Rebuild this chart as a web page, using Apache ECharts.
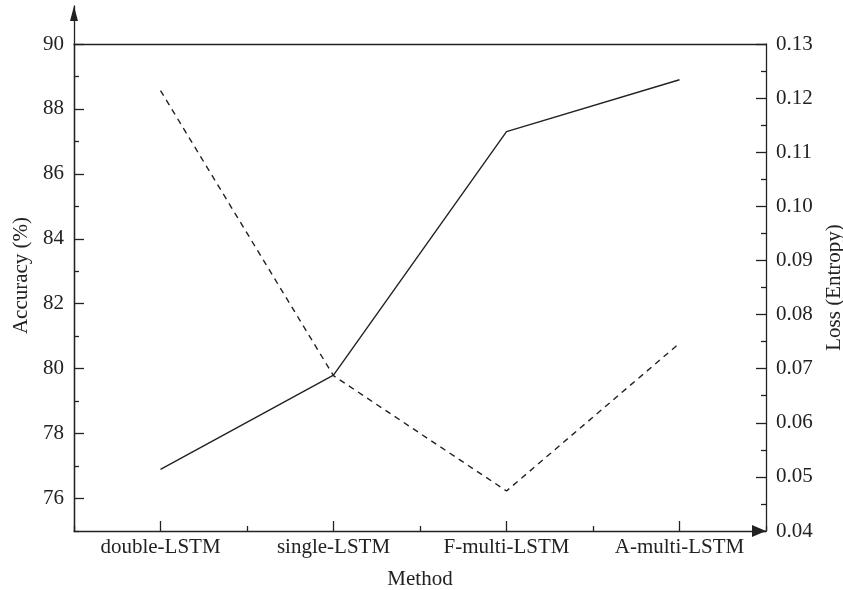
<!DOCTYPE html>
<html>
<head>
<meta charset="utf-8">
<script src="https://cdn.jsdelivr.net/npm/echarts@6/dist/echarts.min.js"></script>
<style>
  html, body { margin: 0; padding: 0; background: #fff; }
  #box01 { width: 843px; height: 590px; }
</style>
</head>
<body>
<div id="box01"></div>
<script>
// 数据
var methods = ['double-LSTM', 'single-LSTM', 'F-multi-LSTM', 'A-multi-LSTM'];
var accuracy = [76.9, 79.8, 87.3, 88.9];
var loss = [0.1214, 0.0687, 0.0474, 0.0747];

// 刻度
var accTicks = [76, 78, 80, 82, 84, 86, 88, 90];
var accMinorTicks = [75, 77, 79, 81, 83, 85, 87, 89];
var lossTicks = [0.04, 0.05, 0.06, 0.07, 0.08, 0.09, 0.10, 0.11, 0.12, 0.13];
var lossMinorTicks = [0.045, 0.055, 0.065, 0.075, 0.085, 0.095, 0.105, 0.115, 0.125];

var ink = '#222';
var font = 'Liberation Serif';
var fs = 21;
var lineStyle = { color: ink, width: 1.3 };

var myChart = echarts.init(document.getElementById('box01'));

var option = {
    backgroundColor: '#fff',
    animation: false,
    textStyle: { fontFamily: font, color: ink },
    grid: [
        { left: 74, right: 77, top: 44, bottom: 59, outerBoundsMode: 'none', containLabel: false },
        { left: 74, right: 77, top: 6, bottom: 59, outerBoundsMode: 'none', containLabel: false }
    ],
    xAxis: [
        {
            type : 'category',
            data : methods,
            boundaryGap: true,
            name: 'Method',
            nameLocation: 'middle',
            nameGap: 38,
            nameTextStyle: { fontFamily: font, fontSize: fs, color: ink },
            axisLine: { show: true, lineStyle: lineStyle, symbol: ['none', 'triangle'], symbolSize: [12, 14], symbolOffset: [0, -7] },
            axisTick: { show: true, inside: true, length: 10, alignWithLabel: true, lineStyle: lineStyle },
            axisLabel: { fontFamily: font, fontSize: fs, color: ink, margin: 6 },
            splitLine: { show: false }
        },
        {
            type : 'category',
            data : methods,
            boundaryGap: true,
            position: 'bottom',
            axisLine: { show: false },
            axisTick: { show: true, inside: true, length: 5, lineStyle: lineStyle },
            axisLabel: { show: false },
            splitLine: { show: false }
        },
        {
            type : 'category',
            data : methods,
            position: 'top',
            axisLine: { show: true, lineStyle: lineStyle },
            axisTick: { show: false },
            axisLabel: { show: false },
            splitLine: { show: false }
        },
        {
            type: 'value',
            gridIndex: 1,
            show: false
        }
    ],
    yAxis: [
        {
            type : 'value',
            min: 75,
            max: 90,
            position: 'left',
            name: 'Accuracy (%)',
            nameLocation: 'middle',
            nameGap: 40,
            nameTextStyle: { fontFamily: font, fontSize: fs, color: ink, padding: [0, 0, 0, 24] },
            axisLine: { show: true, lineStyle: lineStyle },
            axisTick: { show: true, inside: true, length: 10, lineStyle: lineStyle, customValues: accTicks },
            axisLabel: { fontFamily: font, fontSize: fs, color: ink, margin: 10, customValues: accTicks },
            splitLine: { show: false }
        },
        {
            type : 'value',
            min: 75,
            max: 90,
            position: 'left',
            axisLine: { show: false },
            axisTick: { show: true, inside: true, length: 5, lineStyle: lineStyle, customValues: accMinorTicks },
            axisLabel: { show: false, customValues: accMinorTicks },
            splitLine: { show: false }
        },
        {
            type : 'value',
            min: 0.04,
            max: 0.13,
            position: 'right',
            name: 'Loss (Entropy)',
            nameLocation: 'middle',
            nameGap: 56,
            nameTextStyle: { fontFamily: font, fontSize: fs, color: ink },
            axisLine: { show: true, lineStyle: lineStyle },
            axisTick: { show: true, inside: true, length: 10, lineStyle: lineStyle, customValues: lossTicks },
            axisLabel: {
                fontFamily: font, fontSize: fs, color: ink, margin: 10, customValues: lossTicks,
                formatter: function (v) { return v.toFixed(2); }
            },
            splitLine: { show: false }
        },
        {
            type : 'value',
            min: 0.04,
            max: 0.13,
            position: 'right',
            axisLine: { show: false },
            axisTick: { show: true, inside: true, length: 5, lineStyle: lineStyle, customValues: lossMinorTicks },
            axisLabel: { show: false, customValues: lossMinorTicks },
            splitLine: { show: false }
        },
        {
            // 左轴箭头
            type: 'value',
            gridIndex: 1,
            position: 'left',
            axisLine: { show: true, lineStyle: lineStyle, symbol: ['none', 'triangle'], symbolSize: [8, 15], symbolOffset: [0, -7.5] },
            axisTick: { show: false },
            axisLabel: { show: false },
            splitLine: { show: false }
        }
    ],
    series : [
        {
            name: 'Accuracy',
            type: 'line',
            xAxisIndex: 0,
            yAxisIndex: 0,
            data: accuracy,
            symbol: 'none',
            lineStyle: { color: ink, width: 1.4, type: 'solid' }
        },
        {
            name: 'Loss',
            type: 'line',
            xAxisIndex: 0,
            yAxisIndex: 2,
            data: loss,
            symbol: 'none',
            lineStyle: { color: ink, width: 1.4, type: [6, 5] }
        }
    ]
};
myChart.setOption(option);
</script>
</body>
</html>
